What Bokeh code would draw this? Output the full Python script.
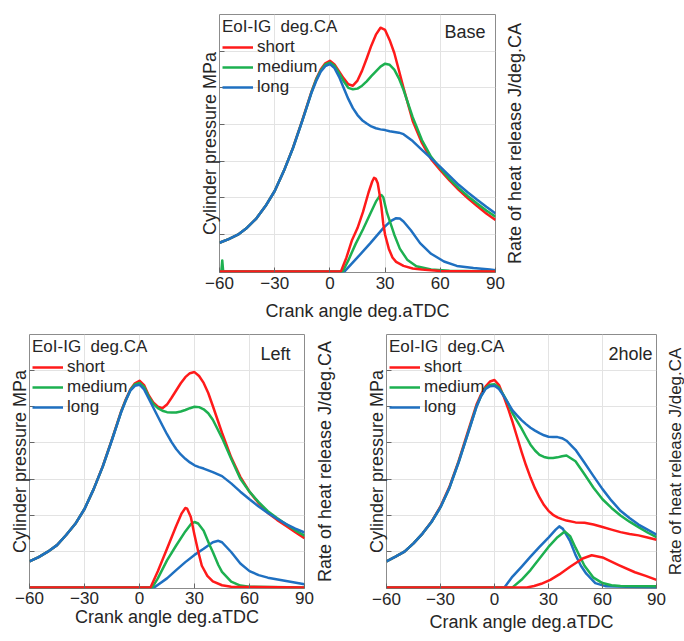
import math
from bokeh.plotting import figure
from bokeh.models import Range1d, FixedTicker, Legend, LegendItem, Label, Spacer
from bokeh.layouts import column, row
from bokeh.embed import file_html
from bokeh.resources import INLINE

FONT = "Liberation Sans"
TEXT = "#262626"
COLORS = {"short": "#ff1a1a", "medium": "#1db050", "long": "#1f70c1"}
CASES = ["short", "medium", "long"]
LEGEND_TITLE = "EoI-IG  deg.CA"
X_LABEL = "Crank angle deg.aTDC"
Y_LABEL = "Cylinder pressure MPa"
Y2_LABEL = "Rate of heat release J/deg.CA"
X_TICKS = [-60, -30, 0, 30, 60, 90]
Y_TICKS = [1, 2, 3, 4, 5, 6]

# crank angle grid for pressure traces
CA_P = [-60, -55, -50, -45, -40, -35, -30, -25, -20, -15,
        -10, -7.5, -5, -2.5, 0, 2.5, 5, 7.5, 10, 12.5, 15, 17.5, 20, 22.5, 25, 27.5, 30, 32.5, 35, 37.5,
        40, 45, 50, 55, 60, 65, 70, 75, 80, 85, 90]

# ---------------- Base ----------------
BASE_P_SHORT = [0.78, 0.88, 1.00, 1.19, 1.44, 1.78, 2.19, 2.74, 3.38, 4.12,
                4.90, 5.24, 5.50, 5.67, 5.74, 5.64, 5.45, 5.26, 5.10, 5.06, 5.20, 5.47, 5.80, 6.15, 6.45,
                6.64, 6.58, 6.30, 5.95, 5.48, 5.00, 4.10, 3.50, 3.06, 2.76, 2.48, 2.22, 1.99, 1.78, 1.58, 1.40]
BASE_P_MEDIUM = [0.78, 0.88, 1.00, 1.19, 1.44, 1.78, 2.19, 2.74, 3.37, 4.11,
                 4.88, 5.22, 5.47, 5.64, 5.69, 5.60, 5.40, 5.18, 5.00, 4.96, 4.98, 5.06, 5.18, 5.32, 5.45,
                 5.58, 5.66, 5.63, 5.50, 5.26, 4.95, 4.20, 3.58, 3.12, 2.81, 2.52, 2.27, 2.05, 1.85, 1.66, 1.49]
BASE_P_LONG = [0.78, 0.88, 1.00, 1.19, 1.44, 1.78, 2.19, 2.74, 3.37, 4.10,
               4.87, 5.18, 5.44, 5.59, 5.65, 5.54, 5.30, 5.00, 4.70, 4.45, 4.26, 4.12, 4.03, 3.95, 3.90,
               3.87, 3.85, 3.82, 3.80, 3.78, 3.74, 3.55, 3.31, 3.08, 2.85, 2.60, 2.36, 2.15, 1.95, 1.76, 1.58]

BASE_HRR_SHORT_CA = [-60, 6, 9, 12, 15, 18, 21, 23, 24, 25, 26, 27, 28, 29, 30, 32, 34, 36, 40, 45, 50, 60, 90]
BASE_HRR_SHORT = [0, 0, 0.38, 0.85, 1.18, 1.62, 2.15, 2.45, 2.55, 2.52, 2.40, 2.10, 1.75, 1.30, 1.00, 0.62,
                  0.38, 0.26, 0.15, 0.08, 0.05, 0.01, 0]
BASE_HRR_MEDIUM_CA = [-60, -59, -58.5, -58, 7, 10, 14, 18, 22, 25, 27, 28, 29, 31, 33, 35, 38, 42, 47, 55, 65, 90]
BASE_HRR_MEDIUM = [0, 0, 0.30, 0, 0, 0.30, 0.75, 1.15, 1.58, 1.90, 2.05, 2.08, 2.02, 1.60, 1.30, 1.00, 0.62,
                   0.32, 0.14, 0.05, 0.02, 0]
BASE_HRR_LONG_CA = [-60, 8, 15, 22, 29, 33, 36, 38, 40, 44, 49, 55, 62, 69, 78, 87, 90]
BASE_HRR_LONG = [0, 0, 0.38, 0.77, 1.18, 1.37, 1.45, 1.44, 1.36, 1.12, 0.77, 0.48, 0.27, 0.15, 0.09, 0.05, 0.03]

# ---------------- Left ----------------
LEFT_P_SHORT = [0.72, 0.84, 0.99, 1.17, 1.45, 1.76, 2.17, 2.72, 3.36, 4.10,
                4.88, 5.20, 5.48, 5.65, 5.72, 5.60, 5.32, 5.12, 5.00, 4.96, 5.06, 5.25, 5.45, 5.65, 5.82,
                5.93, 5.96, 5.85, 5.66, 5.38, 5.02, 4.28, 3.60, 3.06, 2.65, 2.33, 2.06, 1.87, 1.70, 1.53, 1.36]
LEFT_P_MEDIUM = [0.72, 0.84, 0.99, 1.17, 1.45, 1.76, 2.17, 2.72, 3.35, 4.09,
                 4.86, 5.18, 5.46, 5.62, 5.66, 5.55, 5.28, 5.08, 4.96, 4.89, 4.85, 4.84, 4.84, 4.87, 4.91,
                 4.96, 5.00, 4.99, 4.93, 4.82, 4.64, 4.14, 3.56, 3.01, 2.65, 2.36, 2.11, 1.92, 1.75, 1.58, 1.43]
LEFT_P_LONG = [0.72, 0.84, 0.99, 1.17, 1.45, 1.76, 2.17, 2.72, 3.35, 4.08,
               4.85, 5.17, 5.45, 5.58, 5.61, 5.48, 5.23, 4.98, 4.73, 4.48, 4.24, 4.02, 3.83, 3.68, 3.56,
               3.46, 3.38, 3.33, 3.29, 3.24, 3.19, 3.08, 2.88, 2.65, 2.44, 2.24, 2.06, 1.90, 1.75, 1.63, 1.52]

LEFT_HRR_SHORT_CA = [-60, 6, 10, 15, 20, 23, 25, 26, 28, 30, 32, 34, 37, 40, 45, 50, 90]
LEFT_HRR_SHORT = [0, 0, 0.45, 1.07, 1.70, 2.05, 2.20, 2.18, 1.95, 1.45, 1.00, 0.60, 0.32, 0.17, 0.06, 0.02, 0]
LEFT_HRR_MEDIUM_CA = [-60, 7, 10, 15, 20, 25, 28, 30, 32, 35, 38, 40, 43, 45, 50, 55, 60, 90]
LEFT_HRR_MEDIUM = [0, 0, 0.25, 0.75, 1.16, 1.55, 1.75, 1.81, 1.77, 1.57, 1.20, 0.98, 0.62, 0.43, 0.16, 0.05,
                   0.02, 0]
LEFT_HRR_LONG_CA = [-60, 8, 15, 20, 25, 30, 35, 40, 43, 45, 50, 55, 60, 65, 70, 80, 90]
LEFT_HRR_LONG = [0, 0, 0.25, 0.48, 0.70, 0.90, 1.07, 1.25, 1.29, 1.25, 0.98, 0.66, 0.45, 0.34, 0.27, 0.18, 0.09]

# ---------------- 2hole ----------------
TWO_P_SHORT = [0.72, 0.85, 0.99, 1.22, 1.49, 1.82, 2.24, 2.79, 3.49, 4.28,
               5.06, 5.34, 5.56, 5.70, 5.74, 5.60, 5.30, 4.96, 4.58, 4.17, 3.76, 3.38, 3.04, 2.74, 2.49,
               2.28, 2.12, 2.01, 1.94, 1.89, 1.85, 1.80, 1.79, 1.74, 1.67, 1.60, 1.53, 1.48, 1.44, 1.38, 1.32]
TWO_P_MEDIUM = [0.72, 0.85, 0.99, 1.22, 1.49, 1.81, 2.22, 2.76, 3.46, 4.23,
                5.01, 5.30, 5.51, 5.61, 5.62, 5.53, 5.33, 5.10, 4.82, 4.61, 4.40, 4.17, 3.95, 3.79, 3.67,
                3.61, 3.58, 3.58, 3.60, 3.63, 3.65, 3.49, 3.13, 2.76, 2.44, 2.20, 1.99, 1.82, 1.67, 1.52, 1.39]
TWO_P_LONG = [0.72, 0.85, 0.99, 1.22, 1.49, 1.81, 2.22, 2.76, 3.45, 4.22,
              5.00, 5.29, 5.49, 5.57, 5.58, 5.49, 5.31, 5.11, 4.90, 4.76, 4.63, 4.52, 4.42, 4.34, 4.27,
              4.21, 4.17, 4.16, 4.16, 4.13, 4.06, 3.81, 3.45, 3.08, 2.72, 2.40, 2.12, 1.92, 1.74, 1.60, 1.46]

TWO_HRR_SHORT_CA = [-60, 18, 22, 26, 31, 36, 42, 49, 54, 60, 69, 78, 84, 90]
TWO_HRR_SHORT = [0, 0, 0.04, 0.10, 0.21, 0.36, 0.57, 0.80, 0.89, 0.83, 0.62, 0.42, 0.32, 0.21]
TWO_HRR_MEDIUM_CA = [-60, 10, 15, 20, 25, 30, 35, 39, 42, 45, 48, 50, 55, 60, 65, 70, 90]
TWO_HRR_MEDIUM = [0, 0, 0.21, 0.48, 0.80, 1.12, 1.39, 1.55, 1.42, 1.10, 0.80, 0.60, 0.27, 0.12, 0.06, 0.04, 0.03]
TWO_HRR_LONG_CA = [-60, 5.5, 10, 15, 20, 25, 30, 34, 36, 38, 42, 45, 48, 51, 56, 62, 90]
TWO_HRR_LONG = [0, 0, 0.30, 0.57, 0.85, 1.12, 1.38, 1.60, 1.69, 1.62, 1.28, 0.90, 0.60, 0.38, 0.12, 0.03, 0]

X_START, X_END = -60, 90
Y_START, Y_END = -0.03, 7


def make_panel(name, pres, hrr, width, height, mb, name_off, label_standoffs):
    p = figure(width=width, height=height, output_backend="svg", toolbar_location=None,
               x_range=Range1d(X_START, X_END), y_range=Range1d(Y_START, Y_END),
               min_border_left=mb[0], min_border_right=mb[1],
               min_border_top=mb[2], min_border_bottom=mb[3],
               background_fill_color="white", border_fill_color="white")
    p.outline_line_color = "#8c8c8c"
    p.outline_line_width = 1

    renderers = {}
    # pressure: red first, blue last (blue on top)
    for case in CASES:
        r = p.line(CA_P, pres[case], line_color=COLORS[case], line_width=2.5, line_join="round")
        renderers[case] = r
    # heat release: blue first, red last
    for case in ["long", "medium", "short"]:
        ca, vals = hrr[case]
        p.line(ca, vals, line_color=COLORS[case], line_width=2.5, line_join="round")

    xa = p.xaxis[0]
    xa.ticker = FixedTicker(ticks=X_TICKS)
    xa.axis_label = X_LABEL
    xa.axis_label_text_font = FONT
    xa.axis_label_text_font_size = "18px"
    xa.axis_label_text_font_style = "normal"
    xa.axis_label_text_color = TEXT
    xa.axis_label_standoff = label_standoffs[1]
    xa.major_label_text_font = FONT
    xa.major_label_text_font_size = "17px"
    xa.major_label_text_color = TEXT
    xa.major_label_standoff = label_standoffs[0]
    xa.axis_line_color = None
    xa.major_tick_in = 5
    xa.major_tick_out = 0
    xa.major_tick_line_color = "#666666"
    xa.minor_tick_line_color = None

    ya = p.yaxis[0]
    ya.ticker = FixedTicker(ticks=Y_TICKS)
    ya.axis_label = Y_LABEL
    ya.axis_label_text_font = FONT
    ya.axis_label_text_font_size = "18px"
    ya.axis_label_text_font_style = "normal"
    ya.axis_label_text_color = TEXT
    ya.axis_label_standoff = 0
    ya.major_label_text_color = None
    ya.major_label_standoff = 0
    ya.axis_line_color = None
    ya.major_tick_in = 5
    ya.major_tick_out = 0
    ya.major_tick_line_color = "#666666"
    ya.minor_tick_line_color = None

    p.xgrid.ticker = FixedTicker(ticks=X_TICKS)
    p.ygrid.ticker = FixedTicker(ticks=Y_TICKS)
    p.xgrid.grid_line_color = "#e3e3e3"
    p.ygrid.grid_line_color = "#e3e3e3"

    legend = Legend(items=[LegendItem(label=c, renderers=[renderers[c]]) for c in CASES],
                    title=LEGEND_TITLE, location="top_left",
                    title_text_font=FONT, title_text_font_size="17px",
                    title_text_font_style="normal", title_text_color=TEXT, title_standoff=0,
                    label_text_font=FONT, label_text_font_size="17px", label_text_color=TEXT,
                    glyph_width=31, glyph_height=16, label_height=16, label_standoff=4,
                    spacing=0, padding=1, margin=2,
                    background_fill_alpha=0, border_line_alpha=0)
    p.add_layout(legend, "center")

    lab = Label(x=X_END, y=Y_END, x_offset=name_off[0], y_offset=name_off[1], text=name,
                text_align="right", text_baseline="middle", text_font=FONT,
                text_font_size="18px", text_color=TEXT)
    p.add_layout(lab)
    return p


def side_title(width, height, top, bottom, offset, size="18px"):
    """Narrow strip carrying the right-hand axis title, reading bottom-to-top."""
    s = figure(width=width, height=height, output_backend="svg", toolbar_location=None,
               x_range=Range1d(0, 1), y_range=Range1d(0, 1),
               x_axis_location=None, y_axis_location=None,
               min_border_left=0, min_border_right=0, min_border_top=top, min_border_bottom=bottom,
               background_fill_color="white", border_fill_color="white")
    s.outline_line_color = None
    s.xgrid.visible = False
    s.ygrid.visible = False
    s.add_layout(Label(x=0, y=0.5, x_offset=offset, text=Y2_LABEL, angle=math.pi / 2,
                       text_align="center", text_baseline="middle", text_font=FONT,
                       text_font_size=size, text_color=TEXT))
    return s


top = make_panel("Base",
                 {"short": BASE_P_SHORT, "medium": BASE_P_MEDIUM, "long": BASE_P_LONG},
                 {"short": (BASE_HRR_SHORT_CA, BASE_HRR_SHORT),
                  "medium": (BASE_HRR_MEDIUM_CA, BASE_HRR_MEDIUM),
                  "long": (BASE_HRR_LONG_CA, BASE_HRR_LONG)},
                 327, 325, (40, 11, 14, 53), (-10, -17), (4, 9))
left = make_panel("Left",
                  {"short": LEFT_P_SHORT, "medium": LEFT_P_MEDIUM, "long": LEFT_P_LONG},
                  {"short": (LEFT_HRR_SHORT_CA, LEFT_HRR_SHORT),
                   "medium": (LEFT_HRR_MEDIUM_CA, LEFT_HRR_MEDIUM),
                   "long": (LEFT_HRR_LONG_CA, LEFT_HRR_LONG)},
                  315, 315, (29, 11, 9, 47), (-14, -19), (3, 0))
right = make_panel("2hole",
                   {"short": TWO_P_SHORT, "medium": TWO_P_MEDIUM, "long": TWO_P_LONG},
                   {"short": (TWO_HRR_SHORT_CA, TWO_HRR_SHORT),
                    "medium": (TWO_HRR_MEDIUM_CA, TWO_HRR_MEDIUM),
                    "long": (TWO_HRR_LONG_CA, TWO_HRR_LONG)},
                   326, 315, (46, 10, 8, 52), (-4, -19), (4, 4))

top_side = side_title(29, 325, 14, 53, 8)
left_side = side_title(25, 315, 9, 47, 9)
right_side = side_title(18, 315, 8, 52, 9, size="17px")

layout = column(row(Spacer(width=179, height=325), top, top_side),
                row(left, left_side, right, right_side))

open("out.html", "w").write(file_html(layout, INLINE))
